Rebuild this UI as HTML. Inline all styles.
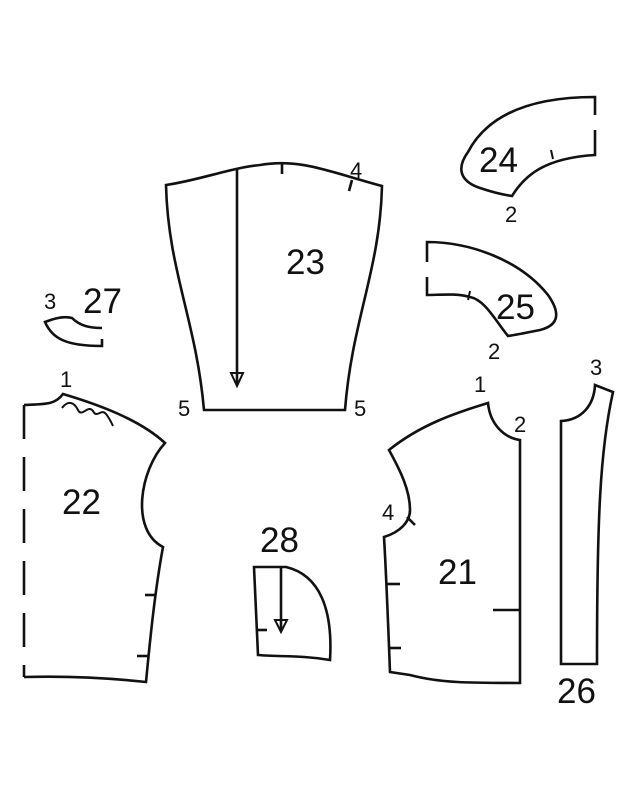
<!DOCTYPE html>
<html><head><meta charset="utf-8"><style>
html,body{margin:0;padding:0;background:#fff;}
svg{display:block}
text{font-family:"Liberation Sans",sans-serif;fill:#111;stroke:none;font-weight:normal;}
.b{font-size:35px;}
.s{font-size:22px;}
</style></head><body>
<svg width="637" height="800" viewBox="0 0 637 800" fill="none" stroke="#111" stroke-width="2.6" stroke-linejoin="miter">
<!-- 23 -->
<path d="M166,185 C200,180 230,168 260,165 C300,158 330,172 382,186 C380,270 352,320 345,410 L204,410 C196,320 168,270 166,185 Z"/>
<line x1="282" y1="163" x2="282" y2="174"/>
<line x1="352" y1="180" x2="349" y2="191"/>
<line x1="237" y1="170" x2="237" y2="385"/>
<path d="M231,373 L243,373 L237,386 Z" stroke-width="2"/>
<text class="s" x="350" y="178">4</text>
<text class="b" x="286" y="274">23</text>
<text class="s" x="178" y="416">5</text>
<text class="s" x="354" y="416">5</text>
<!-- 22 -->
<path d="M24,405 L24,677"  stroke-dasharray="34,18"/>
<path d="M24,405 C45,404 55,405 63,394 C100,405 140,420 165,443 C140,470 130,530 163,547 C155,590 150,640 146,682 C100,677 60,676 24,677"/>
<path d="M62,408 C68,400 74,402 78,410 C82,418 88,404 93,411 C97,419 101,408 106,414 C110,419 112,424 113,426" stroke-width="2"/>
<line x1="145" y1="595" x2="156" y2="595"/>
<line x1="137" y1="656" x2="149" y2="656"/>
<text class="s" x="60" y="387">1</text>
<text class="b" x="62" y="514">22</text>
<!-- 21 -->
<path d="M488,403 C490,425 505,438 520,440 L520,683 C470,683 440,683 410,675 L390,672 C388,620 386,570 384,537 C400,532 410,522 410,510 C410,490 400,470 389,450 C420,425 455,413 488,403 Z"/>
<line x1="407" y1="517" x2="415" y2="525"/>
<line x1="386" y1="584" x2="400" y2="584"/>
<line x1="389" y1="648" x2="401" y2="648"/>
<line x1="493" y1="610" x2="520" y2="610"/>
<text class="s" x="474" y="392">1</text>
<text class="s" x="514" y="432">2</text>
<text class="s" x="382" y="520">4</text>
<text class="b" x="438" y="584">21</text>
<!-- 26 -->
<path d="M561,421 C582,420 594,405 595,385 L613,392 C600,450 597,520 597,664 L561,664 Z"/>
<text class="s" x="590" y="375">3</text>
<text class="b" x="557" y="703">26</text>
<!-- 24 -->
<path d="M595,115 L595,97 C540,97 490,110 468,152 C455,170 462,182 480,188 C495,193 505,195 512,196 C525,175 545,158 595,155 L595,130"/>
<line x1="551" y1="150" x2="553" y2="159" stroke-width="2"/>
<text class="b" x="479" y="172">24</text>
<text class="s" x="505" y="222">2</text>
<!-- 25 -->
<path d="M427,262 L427,242 C470,242 520,260 548,295 C560,312 560,325 540,330 C525,333 515,335 508,336 C495,320 485,300 470,297 C455,293 440,295 427,295 L427,277"/>
<line x1="470" y1="291" x2="468" y2="300" stroke-width="2"/>
<text class="b" x="496" y="319">25</text>
<text class="s" x="488" y="359">2</text>
<!-- 27 -->
<path d="M102,328 C90,328 80,326 72,318 C65,316 55,318 45,322 C52,338 65,346 102,346 L102,339"/>
<text class="s" x="44" y="309">3</text>
<text class="b" x="83" y="313">27</text>
<!-- 28 -->
<path d="M254,567 L286,567 C320,575 333,610 330,660 C300,655 280,657 258,655 Z"/>
<line x1="281" y1="567" x2="281" y2="630"/>
<path d="M275,620 L287,620 L281,632 Z" stroke-width="2"/>
<line x1="257" y1="630" x2="267" y2="630"/>
<text class="b" x="260" y="552">28</text>
</svg>
</body></html>
